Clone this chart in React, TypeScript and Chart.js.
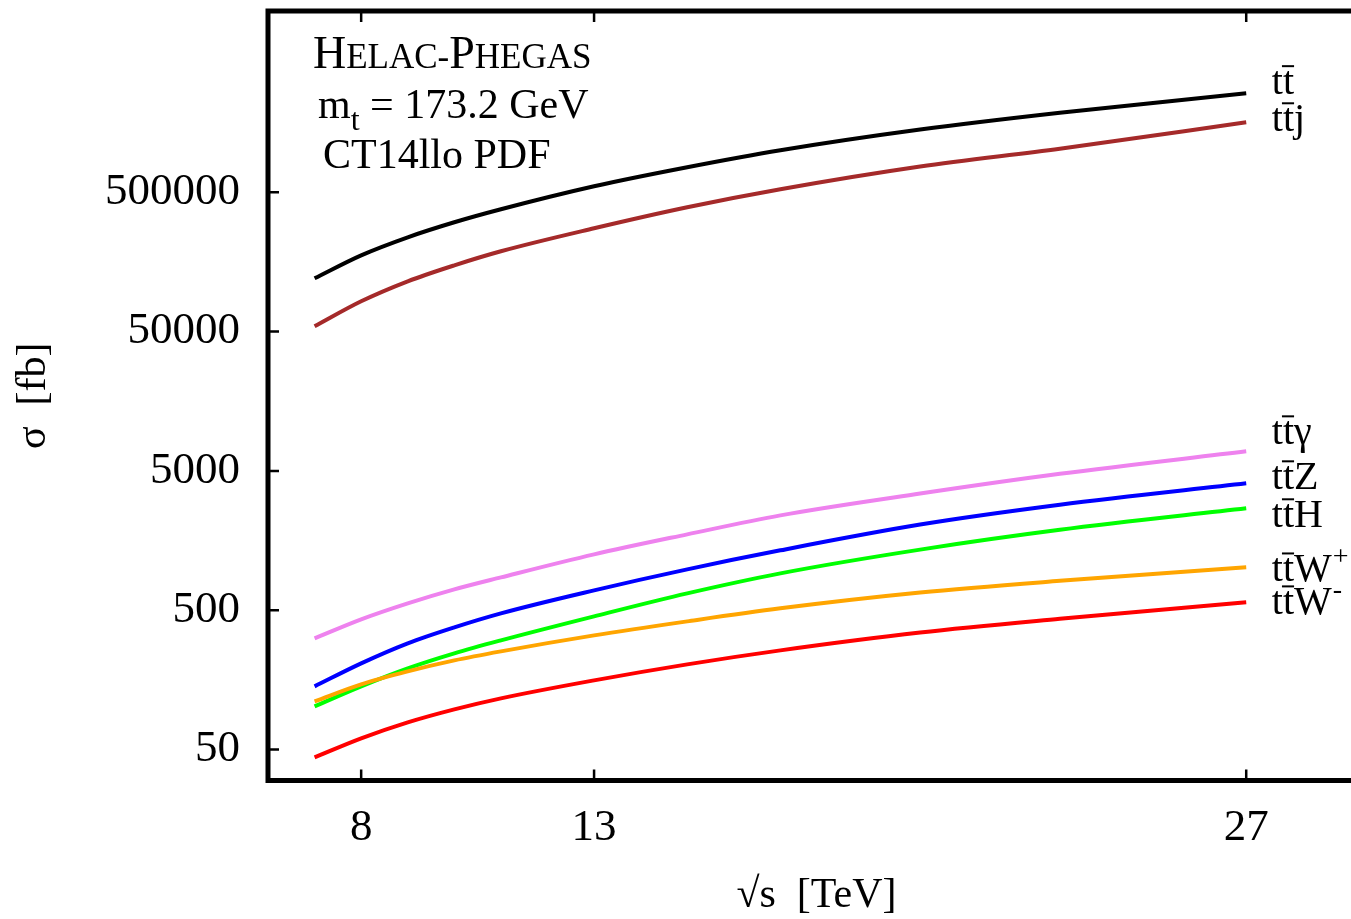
import React, { useEffect, useRef } from "react";
import { Chart, registerables } from "chart.js";

Chart.register(...registerables);

const FONT = "'Liberation Serif', 'Times New Roman', 'DejaVu Serif', serif";

// sqrt(s) in TeV
const energies = [7, 8, 9, 10, 11, 13, 15, 17, 20, 23, 27];
// cross sections in fb
const sigmaTT = [120700, 176400, 237600, 304500, 377500, 552100, 755900, 1001000, 1410000, 1862000, 2568000];
const sigmaTTj = [54560, 82500, 114800, 149500, 188600, 275700, 390200, 525400, 765000, 1027000, 1590000];
const sigmaTTgamma = [314, 430, 560, 706, 861, 1260, 1753, 2400, 3440, 4768, 6911];
const sigmaTTZ = [142.2, 207.9, 289.4, 376.8, 474.9, 694.7, 983, 1346, 2060, 2857, 4074];
const sigmaTTH = [102.1, 142.2, 191.4, 245.3, 304, 452.1, 661, 920, 1362, 1889, 2695];
const sigmaTTWplus = [110.9, 146.9, 182.1, 218.4, 253.5, 330.2, 416.2, 516, 670, 813, 1016];
const sigmaTTWminus = [43.95, 60.2, 78.4, 97.2, 116.6, 157, 204.5, 257.7, 346, 434, 569.7];

const seriesNames = ["tt̄", "tt̄j", "tt̄γ", "tt̄Z", "tt̄H", "tt̄W+", "tt̄W-"];
const seriesValues = [sigmaTT, sigmaTTj, sigmaTTgamma, sigmaTTZ, sigmaTTH, sigmaTTWplus, sigmaTTWminus];
const seriesColors = ["#000000", "#a52a2a", "#ee82ee", "#0000ff", "#00ff00", "#ffa500", "#ff0000"];
const seriesOrder = [0, 1, 2, 3, 5, 4, 6];

// curve labels (text after "tt̄", superscript, baseline value in fb)
const labelTail = ["", "j", "γ", "Z", "H", "W", "W"];
const labelSup = ["", "", "", "", "", "+", "-"];
const labelBaseline = [2.53e6, 1.37e6, 7760, 3690, 1970, 805, 467];
const labelEnergy = 27.55;

const xTicks = [8, 13, 27];
const yTicks = [50, 500, 5000, 50000, 500000];
const xRange = [6, 29.55];
const yRange = [30, 1e7];

const xTitle = "√s  [TeV]";
const yTitle = "σ  [fb]";

function drawTTLabel(ctx: CanvasRenderingContext2D, x: number, base: number, tail: string, sup: string) {
  const size = 40;
  ctx.font = `${size}px ${FONT}`;
  ctx.textBaseline = "alphabetic";
  ctx.textAlign = "left";
  ctx.fillStyle = "#000";
  const tw = ctx.measureText("t").width;
  ctx.fillText("tt", x, base);
  // bar over the second t
  ctx.save();
  ctx.lineWidth = 2;
  ctx.strokeStyle = "#000";
  ctx.beginPath();
  ctx.moveTo(x + tw - 1, base - 0.7 * size);
  ctx.lineTo(x + 2 * tw, base - 0.7 * size);
  ctx.stroke();
  ctx.restore();
  let cx = x + 2 * tw;
  if (tail) {
    ctx.fillText(tail, cx, base);
    cx += ctx.measureText(tail).width;
  }
  if (sup) {
    ctx.font = `28px ${FONT}`;
    ctx.fillText(sup, cx + 1, base - 16);
  }
}

const framePlugin = {
  id: "frameAndLabels",
  afterDraw(chart: any) {
    const { ctx, chartArea: a, scales } = chart;
    const xs = scales.x;
    const ys = scales.y;
    ctx.save();
    // inward ticks
    ctx.strokeStyle = "#000";
    ctx.lineWidth = 2.5;
    ctx.beginPath();
    for (const t of xTicks) {
      const px = xs.getPixelForValue(t);
      ctx.moveTo(px, a.bottom);
      ctx.lineTo(px, a.bottom - 11);
      ctx.moveTo(px, a.top);
      ctx.lineTo(px, a.top + 11);
    }
    for (const t of yTicks) {
      const py = ys.getPixelForValue(t);
      ctx.moveTo(a.left, py);
      ctx.lineTo(a.left + 11, py);
      ctx.moveTo(a.right, py);
      ctx.lineTo(a.right - 11, py);
    }
    ctx.stroke();
    // frame
    ctx.lineWidth = 5;
    ctx.strokeRect(a.left, a.top, a.right - a.left, a.bottom - a.top);

    // curve labels
    const lx = xs.getPixelForValue(labelEnergy);
    for (let i = 0; i < seriesNames.length; i++) {
      drawTTLabel(ctx, lx, ys.getPixelForValue(labelBaseline[i]), labelTail[i], labelSup[i]);
    }

    // annotation block
    ctx.fillStyle = "#000";
    ctx.textBaseline = "alphabetic";
    ctx.textAlign = "left";
    const big = `46px ${FONT}`;
    const small = `35px ${FONT}`;
    const parts: [string, string][] = [
      ["H", big],
      ["ELAC", small],
      ["-", small],
      ["P", big],
      ["HEGAS", small],
    ];
    let x = a.left + 45;
    const b1 = a.top + 57;
    for (const [txt, f] of parts) {
      ctx.font = f;
      ctx.fillText(txt, x, b1);
      x += ctx.measureText(txt).width;
    }
    const b2 = b1 + 50;
    ctx.font = `42px ${FONT}`;
    let x2 = a.left + 50;
    ctx.fillText("m", x2, b2);
    x2 += ctx.measureText("m").width;
    ctx.font = `32px ${FONT}`;
    ctx.fillText("t", x2, b2 + 12);
    x2 += ctx.measureText("t").width;
    ctx.font = `42px ${FONT}`;
    ctx.fillText(" = 173.2 GeV", x2, b2);
    const b3 = b2 + 50;
    ctx.fillText("CT14llo PDF", a.left + 55, b3);
    ctx.restore();
  },
};

export default function App() {
  const ref = useRef<HTMLCanvasElement | null>(null);

  useEffect(() => {
    if (!ref.current) return;
    const datasets = seriesNames.map((name, i) => ({
      label: name,
      data: energies.map((e, j) => ({ x: e, y: seriesValues[i][j] })),
      borderColor: seriesColors[i],
      backgroundColor: seriesColors[i],
      borderWidth: 4,
      pointRadius: 0,
      fill: false,
      cubicInterpolationMode: "monotone" as const,
      order: seriesOrder[i],
    }));
    const chart = new Chart(ref.current, {
      type: "line",
      data: { datasets },
      options: {
        animation: false,
        responsive: false,
        devicePixelRatio: 1,
        layout: { padding: { top: 11, right: 7, left: 0, bottom: 0 } },
        plugins: { legend: { display: false }, tooltip: { enabled: false } },
        scales: {
          x: {
            type: "linear",
            min: xRange[0],
            max: xRange[1],
            grid: { display: false, drawTicks: false },
            border: { display: false },
            afterBuildTicks: (s: any) => {
              s.ticks = xTicks.map((v) => ({ value: v }));
            },
            afterFit: (s: any) => {
              s.height = 138.5;
              s.paddingLeft = 0;
              s.paddingRight = 0;
            },
            ticks: {
              padding: 21,
              color: "#000",
              font: { family: FONT, size: 45 },
              maxRotation: 0,
              autoSkip: false,
              callback: (v: any) => String(v),
            },
            title: {
              display: true,
              text: xTitle,
              color: "#000",
              font: { family: FONT, size: 42 },
              padding: { top: 0, bottom: -2 },
            },
          },
          y: {
            type: "logarithmic",
            min: yRange[0],
            max: yRange[1],
            grid: { display: false, drawTicks: false },
            border: { display: false },
            afterBuildTicks: (s: any) => {
              s.ticks = yTicks.map((v) => ({ value: v }));
            },
            afterFit: (s: any) => {
              s.width = 268;
              s.paddingTop = 0;
              s.paddingBottom = 0;
            },
            ticks: {
              padding: 28,
              color: "#000",
              font: { family: FONT, size: 45 },
              autoSkip: false,
              callback: (v: any) => String(v),
            },
            title: {
              display: true,
              text: yTitle,
              color: "#000",
              font: { family: FONT, size: 42 },
              padding: { top: 9, bottom: 0 },
            },
          },
        },
      },
      plugins: [framePlugin],
    });
    return () => chart.destroy();
  }, []);

  return (
    <div
      style={{
        position: "fixed",
        left: 0,
        top: 0,
        width: 1351,
        height: 919,
        overflow: "hidden",
        background: "#fff",
      }}
    >
      <canvas ref={ref} width={1372} height={919} style={{ display: "block", width: 1372, height: 919 }} />
    </div>
  );
}
